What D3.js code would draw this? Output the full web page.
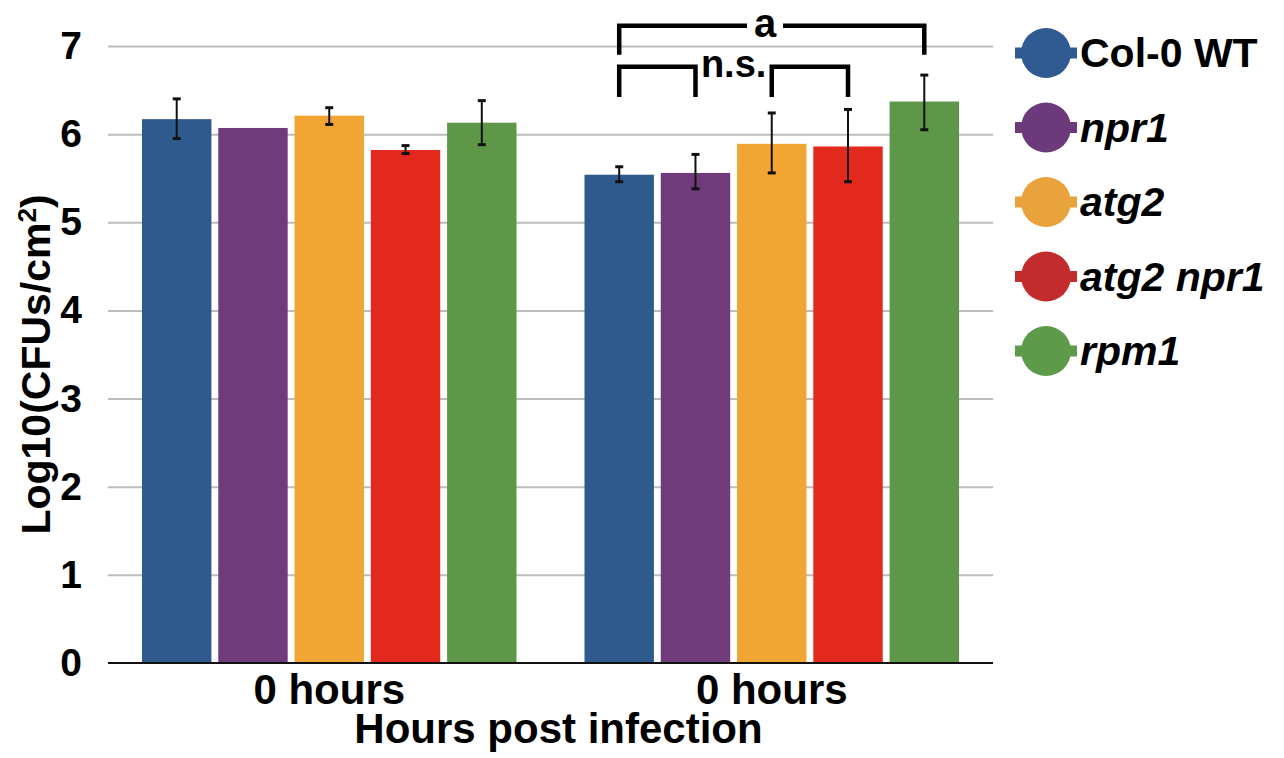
<!DOCTYPE html>
<html lang="en">
<head>
<meta charset="UTF-8">
<title>Log10 CFUs bar chart</title>
<script src="https://d3js.org/d3.v7.min.js"></script>
<style>
    body { margin: 0; background: #fff; }
    text { font-family: "Liberation Sans", Arial, Helvetica, sans-serif; font-weight: bold; fill: #000; }
    .gridline line { stroke: #bdbdbd; stroke-width: 2; }
    .gridline path { display: none; }
    .axis path, .axis line { display: none; }
</style>
</head>
<body>
<script>

// ================== DATA ==================
var categories = ["0 hours", "0 hours"];
var genotypes = ["Col-0 WT", "npr1", "atg2", "atg2 npr1", "rpm1"];
var italicNames = [false, true, true, true, true];
var barColors = ["#2e5a8e", "#6f3b7b", "#f1a532", "#e3281e", "#5e9748"];
var legendColors = ["#2f5b92", "#6c3a7b", "#e8a33c", "#c32c2c", "#5d9a4a"];
var means = [
    [6.17, 6.07, 6.21, 5.82, 6.13],
    [5.54, 5.56, 5.89, 5.86, 6.37]
];
// error bar low/high (null = no bar)
var errLow = [
    [5.95, null, 6.11, 5.78, 5.88],
    [5.46, 5.38, 5.56, 5.46, 6.05]
];
var errHigh = [
    [6.40, null, 6.30, 5.87, 6.38],
    [5.63, 5.77, 6.24, 6.28, 6.67]
];
var yTicks = [0, 1, 2, 3, 4, 5, 6, 7];
// significance brackets on the second group: bar index from/to, level, leg bottom
var brackets = [
    {from: 0, to: 4, top: 7.23, bottom: 6.90, label: "a", mid: 765},
    {from: 0, to: 1, top: 6.765, bottom: 6.42, label: "", mid: null},
    {from: 2, to: 3, top: 6.765, bottom: 6.42, label: "", mid: null}
];

// ================== SVG ==================
var w = 1284, h = 758;
var margin = {top: 46, left: 108, right: 291, bottom: 95};
var width = w - margin.left - margin.right;
var height = h - margin.top - margin.bottom;

var svg = d3.select("body").append("svg")
    .attr("width", w)
    .attr("height", h);
var chart = svg.append("g")
    .attr("transform", "translate(" + margin.left + "," + margin.top + ")");

// ================== SCALES ==================
var x0 = d3.scaleBand()
    .domain(d3.range(categories.length))
    .range([0, width])
    .padding(0);
var x1 = d3.scaleBand()
    .domain(d3.range(genotypes.length))
    .range([34, x0.bandwidth() - 34])
    .paddingInner(0.09);
var y = d3.scaleLinear()
    .domain([0, 7])
    .range([height, 0]);

// ================== GRIDLINES / AXES ==================
chart.append("g")
    .attr("class", "gridline")
    .call(d3.axisLeft(y).tickValues(yTicks.slice(1)).tickSize(-width).tickFormat(""));

chart.append("g")
    .attr("class", "axis y")
    .call(d3.axisLeft(y).tickValues(yTicks).tickSize(0).tickPadding(26).tickFormat(d3.format("d")))
    .selectAll("text")
    .style("font-size", "39px");

chart.append("g")
    .attr("class", "axis x")
    .attr("transform", "translate(0," + height + ")")
    .call(d3.axisBottom(x0).tickSize(0).tickPadding(11).tickFormat(function(i){ return categories[i]; }))
    .selectAll("text")
    .style("font-size", "42px");

// ================== BARS ==================
var groups = chart.selectAll(".group")
    .data(categories)
    .enter().append("g")
    .attr("class", "group")
    .attr("transform", function(d, i){ return "translate(" + x0(i) + ",0)"; });

groups.each(function(c, gi){
    var g = d3.select(this);
    var rows = genotypes.map(function(name, k){
        return {k: k, v: means[gi][k], lo: errLow[gi][k], hi: errHigh[gi][k]};
    });
    g.selectAll("rect")
        .data(rows)
        .enter().append("rect")
        .attr("x", function(d){ return x1(d.k); })
        .attr("width", x1.bandwidth())
        .attr("y", function(d){ return y(d.v); })
        .attr("height", function(d){ return height - y(d.v); })
        .attr("fill", function(d){ return barColors[d.k]; });

    var err = g.selectAll(".err")
        .data(rows.filter(function(d){ return d.lo !== null; }))
        .enter().append("g")
        .attr("class", "err")
        .attr("transform", function(d){ return "translate(" + (x1(d.k) + x1.bandwidth() / 2) + ",0)"; });
    err.append("line")
        .attr("y1", function(d){ return y(d.lo); })
        .attr("y2", function(d){ return y(d.hi); })
        .attr("stroke", "#111").attr("stroke-width", 2);
    err.append("line")
        .attr("x1", -4).attr("x2", 4)
        .attr("y1", function(d){ return y(d.hi); })
        .attr("y2", function(d){ return y(d.hi); })
        .attr("stroke", "#111").attr("stroke-width", 3);
    err.append("line")
        .attr("x1", -4).attr("x2", 4)
        .attr("y1", function(d){ return y(d.lo); })
        .attr("y2", function(d){ return y(d.lo); })
        .attr("stroke", "#111").attr("stroke-width", 3);
});

// baseline
chart.append("line")
    .attr("x1", 0).attr("x2", width)
    .attr("y1", y(0)).attr("y2", y(0))
    .attr("stroke", "#111").attr("stroke-width", 2);

// ================== SIGNIFICANCE BRACKETS ==================
var gOff = x0(1);
function cx(k){ return gOff + x1(k) + x1.bandwidth() / 2; }

var br = chart.append("g").attr("class", "brackets");
brackets.forEach(function(b){
    var xa = cx(b.from), xb = cx(b.to), yt = y(b.top), yb = y(b.bottom);
    var path;
    if (b.label) {
        var gap = 18;
        path = "M" + xa + "," + yb + "V" + yt + "H" + (b.mid - margin.left - gap) +
               "M" + (b.mid - margin.left + gap) + "," + yt + "H" + xb + "V" + yb;
    } else {
        path = "M" + xa + "," + yb + "V" + yt + "H" + xb + "V" + yb;
    }
    br.append("path")
        .attr("d", path)
        .attr("fill", "none")
        .attr("stroke", "#000")
        .attr("stroke-width", 4.5);
    if (b.label) {
        br.append("text")
            .attr("x", b.mid - margin.left)
            .attr("y", yt + 11)
            .attr("text-anchor", "middle")
            .style("font-size", "40px")
            .text(b.label);
    }
});
br.append("text")
    .attr("x", (cx(1) + cx(2)) / 2)
    .attr("y", y(6.765) + 10)
    .attr("text-anchor", "middle")
    .style("font-size", "38px")
    .text("n.s.");

// ================== AXIS TITLES ==================
svg.append("text")
    .attr("transform", "translate(50," + (margin.top + height / 2 + 10) + ") rotate(-90)")
    .attr("text-anchor", "middle")
    .style("font-size", "41px")
    .call(function(t){
        t.append("tspan").text("Log10(CFUs/cm");
        t.append("tspan").attr("dy", -14).style("font-size", "26px").text("2");
        t.append("tspan").attr("dy", 14).text(")");
    });

svg.append("text")
    .attr("x", margin.left + width / 2 + 8)
    .attr("y", 743)
    .attr("text-anchor", "middle")
    .style("font-size", "42px")
    .text("Hours post infection");

// ================== LEGEND ==================
var legend = svg.selectAll(".legend")
    .data(genotypes)
    .enter().append("g")
    .attr("class", "legend")
    .attr("transform", function(d, i){ return "translate(1046," + (53 + i * 74.5) + ")"; });
legend.append("rect")
    .attr("x", -31).attr("y", -5.5)
    .attr("width", 62).attr("height", 11)
    .attr("fill", function(d, i){ return legendColors[i]; });
legend.append("circle")
    .attr("r", 25)
    .attr("fill", function(d, i){ return legendColors[i]; });
legend.append("text")
    .attr("x", 34)
    .attr("y", 14)
    .style("font-size", "41px")
    .style("font-style", function(d, i){ return italicNames[i] ? "italic" : "normal"; })
    .text(function(d){ return d; });

</script>
</body>
</html>
